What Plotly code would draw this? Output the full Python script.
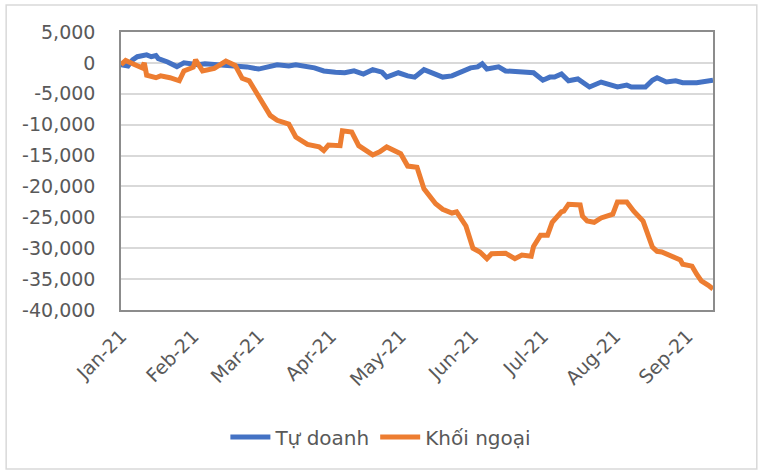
import plotly.graph_objects as go

# Tự doanh (proprietary trading) cumulative net value
td_dates = ["2021-01-01","2021-01-04","2021-01-06","2021-01-08","2021-01-12","2021-01-14","2021-01-16","2021-01-17",
            "2021-01-21","2021-01-25","2021-01-28","2021-01-30","2021-02-03","2021-02-06","2021-02-15","2021-02-19",
            "2021-02-24","2021-03-01","2021-03-05","2021-03-09","2021-03-14","2021-03-17","2021-03-25","2021-03-29",
            "2021-04-03","2021-04-07","2021-04-11","2021-04-15","2021-04-19","2021-04-23","2021-04-25","2021-04-30",
            "2021-05-04","2021-05-07","2021-05-11","2021-05-15","2021-05-19","2021-05-23","2021-05-26","2021-05-31",
            "2021-06-03","2021-06-05","2021-06-07","2021-06-12","2021-06-15","2021-06-21","2021-06-27","2021-07-01",
            "2021-07-04","2021-07-06","2021-07-09","2021-07-12","2021-07-16","2021-07-21","2021-07-26","2021-08-02",
            "2021-08-06","2021-08-08","2021-08-14","2021-08-17","2021-08-19","2021-08-23","2021-08-27","2021-08-30",
            "2021-09-05","2021-09-12"]
td_values = [-300,-500,500,1000,1300,1000,1200,700,
             150,-600,0,-100,-300,-150,-300,-500,
             -650,-1000,-650,-300,-500,-300,-800,-1300,
             -1500,-1600,-1300,-1800,-1100,-1500,-2300,-1600,
             -2100,-2300,-1100,-1600,-2300,-2100,-1600,-800,
             -650,-150,-1000,-650,-1300,-1500,-1600,-2800,
             -2300,-2300,-1800,-2900,-2600,-3900,-3100,-3900,
             -3600,-3900,-3900,-2800,-2400,-3100,-2900,-3200,
             -3200,-2800]

# Khối ngoại (foreign investors) cumulative net value
kn_dates = ["2021-01-01","2021-01-03","2021-01-07","2021-01-10","2021-01-11","2021-01-12","2021-01-16","2021-01-18",
            "2021-01-22","2021-01-26","2021-01-28","2021-01-31","2021-02-01","2021-02-02","2021-02-05","2021-02-10",
            "2021-02-15","2021-02-19","2021-02-22","2021-02-25","2021-03-01","2021-03-04","2021-03-06","2021-03-09",
            "2021-03-14","2021-03-17","2021-03-22","2021-03-27","2021-03-29","2021-03-31","2021-04-05","2021-04-06",
            "2021-04-10","2021-04-13","2021-04-19","2021-04-22","2021-04-25","2021-05-01","2021-05-04","2021-05-08",
            "2021-05-11","2021-05-16","2021-05-19","2021-05-23","2021-05-25","2021-05-29","2021-06-01","2021-06-04",
            "2021-06-07","2021-06-09","2021-06-15","2021-06-19","2021-06-22","2021-06-26","2021-06-27","2021-06-30",
            "2021-07-03","2021-07-05","2021-07-09","2021-07-10","2021-07-12","2021-07-17","2021-07-18","2021-07-20",
            "2021-07-23","2021-07-26","2021-07-28","2021-07-31","2021-08-02","2021-08-06","2021-08-09","2021-08-13",
            "2021-08-17","2021-08-19","2021-08-21","2021-08-26","2021-08-29","2021-08-30","2021-09-03","2021-09-05",
            "2021-09-07","2021-09-10","2021-09-12"]
kn_values = [-300,400,-300,-800,0,-2000,-2400,-2100,
             -2400,-2900,-1300,-1000,-700,500,-1300,-900,
             300,-400,-2500,-2900,-5300,-7300,-8500,-9300,
             -9900,-12000,-13200,-13600,-14200,-13300,-13400,-11000,
             -11200,-13400,-14900,-14400,-13600,-14700,-16700,-16900,
             -20400,-22800,-23700,-24300,-24100,-26400,-30000,-30600,
             -31700,-30900,-30800,-31700,-31100,-31300,-29700,-27900,
             -27900,-25800,-24100,-24000,-22900,-23000,-24800,-25600,
             -25800,-25100,-24800,-24500,-22500,-22500,-24000,-25600,
             -29800,-30500,-30600,-31400,-31900,-32600,-32900,-34200,
             -35300,-36000,-36600]

y_tick_vals = [5000, 0, -5000, -10000, -15000, -20000, -25000, -30000, -35000, -40000]
y_tick_text = ["5,000", "0", "-5,000", "-10,000", "-15,000", "-20,000", "-25,000", "-30,000", "-35,000", "-40,000"]
x_tick_vals = ["2021-01-01","2021-02-01","2021-03-01","2021-04-01","2021-05-01","2021-06-01","2021-07-01","2021-08-01","2021-09-01"]
x_tick_text = ["Jan-21","Feb-21","Mar-21","Apr-21","May-21","Jun-21","Jul-21","Aug-21","Sep-21"]

FONT = "DejaVu Sans"
GRAY = "#595959"

fig = go.Figure()
fig.add_trace(go.Scatter(x=td_dates, y=td_values, mode="lines", name="Tự doanh",
                         line=dict(color="#4472C4", width=5)))
fig.add_trace(go.Scatter(x=kn_dates, y=kn_values, mode="lines", name="Khối ngoại",
                         line=dict(color="#ED7D31", width=5)))

fig.update_layout(
    width=759, height=472,
    margin=dict(l=121, r=46, t=32, b=162),
    paper_bgcolor="white", plot_bgcolor="white",
    font=dict(family=FONT, color=GRAY, size=19),
    showlegend=True,
    legend=dict(orientation="h", x=0.439, xanchor="center", y=-0.457, yanchor="middle",
                font=dict(size=20, color=GRAY), itemwidth=40, tracegroupgap=0),
    shapes=[dict(type="rect", xref="paper", yref="paper",
                 x0=-0.194, x1=1.074, y0=-0.572, y1=1.097,
                 line=dict(color="#d9d9d9", width=1.5), fillcolor="rgba(0,0,0,0)", layer="below")],
)
fig.update_xaxes(type="date", range=["2021-01-01", "2021-09-12"],
                 tickvals=x_tick_vals, ticktext=x_tick_text, tickangle=-45,
                 showgrid=False, zeroline=False, ticks="", ticklabelstandoff=6,
                 showline=True, mirror=True, linecolor="#8c8c8c", linewidth=1.5,
                 tickfont=dict(size=19, color=GRAY, family=FONT))
fig.update_yaxes(range=[-40000, 5000], tickvals=y_tick_vals, ticktext=y_tick_text,
                 showgrid=True, gridcolor="#d9d9d9", gridwidth=1.5, zeroline=False,
                 ticks="", ticklabelstandoff=20,
                 showline=True, mirror=True, linecolor="#8c8c8c", linewidth=1.5,
                 tickfont=dict(size=19, color=GRAY, family=FONT))

fig.write_html("out.html", config={"displayModeBar": False},
               post_script="document.body.style.margin='0';document.body.style.overflow='hidden';")
